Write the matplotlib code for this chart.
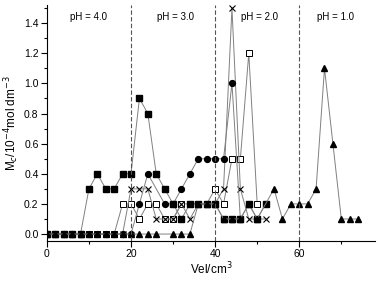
import matplotlib
matplotlib.use("Agg")
import matplotlib.pyplot as plt
from matplotlib.ticker import MultipleLocator

plt.rcParams['font.family'] = ['Liberation Sans', 'DejaVu Sans']

# filled squares
sq_x = [0, 2, 4, 6, 8, 10, 12, 14, 16, 18, 20, 22, 24, 26, 28, 30, 32, 34, 36, 38, 40,
        42, 44, 46, 48, 50, 52]
sq_y = [0, 0, 0, 0, 0, 0.3, 0.4, 0.3, 0.3, 0.4, 0.4, 0.9, 0.8, 0.4, 0.3, 0.2, 0.1, 0.2, 0.2, 0.2, 0.2,
        0.1, 0.1, 0.1, 0.2, 0.1, 0.2]

# open squares
osq_x = [0, 2, 4, 6, 8, 10, 12, 14, 16, 18, 20, 22, 24, 26, 28, 30, 32, 34, 36, 38, 40,
         42, 44, 46, 48, 50]
osq_y = [0, 0, 0, 0, 0, 0, 0, 0, 0, 0.2, 0.2, 0.1, 0.2, 0.2, 0.1, 0.1, 0.2, 0.2, 0.2, 0.2, 0.3,
         0.2, 0.5, 0.5, 1.2, 0.2]

# crosses
cr_x = [0, 2, 4, 6, 8, 10, 12, 14, 16, 18, 20, 22, 24, 26, 28, 30, 32, 34, 36, 38, 40,
        42, 44, 46, 48, 50, 52]
cr_y = [0, 0, 0, 0, 0, 0, 0, 0, 0, 0, 0.3, 0.3, 0.3, 0.1, 0.1, 0.1, 0.2, 0.1, 0.2, 0.2, 0.2,
        0.3, 1.5, 0.3, 0.1, 0.1, 0.1]

# circles
ci_x = [0, 2, 4, 6, 8, 10, 12, 14, 16, 18, 20, 22, 24, 28, 30, 32, 34, 36, 38, 40, 42, 44, 46]
ci_y = [0, 0, 0, 0, 0, 0, 0, 0, 0, 0, 0, 0.2, 0.4, 0.2, 0.2, 0.3, 0.4, 0.5, 0.5, 0.5, 0.5, 1.0, 0.1]

# triangles
tr_x = [0, 2, 4, 6, 8, 10, 12, 14, 16, 18, 20, 22, 24, 26, 30, 32, 34, 36, 38, 40, 42, 44,
        46, 48, 50, 54, 56, 58, 60, 62, 64, 66, 68, 70, 72, 74]
tr_y = [0, 0, 0, 0, 0, 0, 0, 0, 0, 0, 0, 0, 0, 0, 0, 0, 0, 0.2, 0.2, 0.2, 0.1, 0.1,
        0.1, 0.2, 0.1, 0.3, 0.1, 0.2, 0.2, 0.2, 0.3, 1.1, 0.6, 0.1, 0.1, 0.1]

ph_pos = [10, 30.5, 50.5, 68.5]
ph_labels = ['pH = 4.0', 'pH = 3.0', 'pH = 2.0', 'pH = 1.0']
boundaries = [20, 40, 60]

fig = plt.figure(figsize=(3.78, 2.82), dpi=100)
ax = fig.add_axes([0.124, 0.146, 0.868, 0.836])

line_kw = dict(color='#808080', lw=0.7, markersize=4.2, markeredgecolor='black')
ax.plot(osq_x, osq_y, marker='s', markerfacecolor='white', markeredgewidth=0.7, **line_kw)
ax.plot(cr_x, cr_y, marker='x', markeredgewidth=0.8, **line_kw)
ax.plot(ci_x, ci_y, marker='o', markerfacecolor='black', **line_kw)
ax.plot(sq_x, sq_y, marker='s', markerfacecolor='black', **line_kw)
ax.plot(tr_x, tr_y, marker='^', markerfacecolor='black', **line_kw)

for b in boundaries:
    ax.axvline(b, color='#555555', lw=0.8, ls=(0, (4, 2)))

for xp, lab in zip(ph_pos, ph_labels):
    ax.text(xp, 1.44, lab, ha='center', va='center', fontsize=7)

ax.set_xlim(0, 78)
ax.set_ylim(-0.045, 1.52)
ax.xaxis.set_major_locator(MultipleLocator(20))
ax.xaxis.set_minor_locator(MultipleLocator(10))
ax.yaxis.set_major_locator(MultipleLocator(0.2))
ax.yaxis.set_minor_locator(MultipleLocator(0.1))
ax.yaxis.set_major_formatter(matplotlib.ticker.FormatStrFormatter('%.1f'))
ax.tick_params(which='major', length=4, width=0.8, labelsize=7.5, pad=2)
ax.tick_params(which='minor', length=2, width=0.8)
ax.spines['top'].set_visible(False)
ax.spines['right'].set_visible(False)

ax.set_xlabel('Vel/cm$^3$', fontsize=8.5, labelpad=1)
ax.set_ylabel('M$_c$/10$^{-4}$mol dm$^{-3}$', fontsize=8.5, labelpad=2)

fig.savefig('out.png', dpi=100)
